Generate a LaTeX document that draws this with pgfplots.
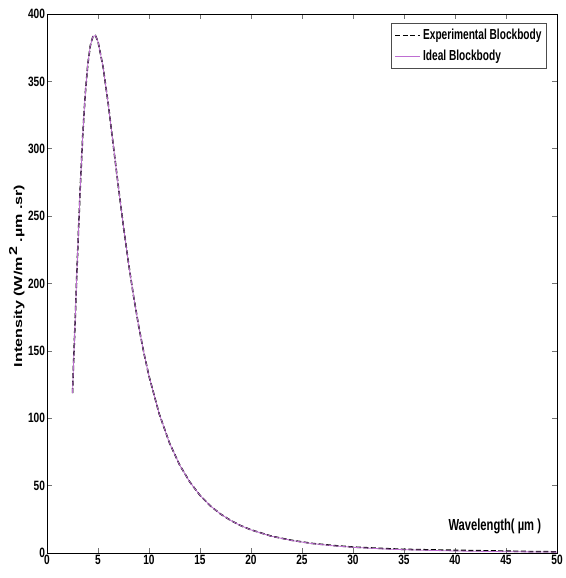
\documentclass[border=0pt]{standalone}
\usepackage{pgfplots}
\pgfplotsset{compat=1.18}
\usepackage{fontspec}
\setmainfont{Liberation Sans}
% the reference figure was squeezed sideways, so horizontal text looks narrow
\newfontfamily\tickfont[FakeStretch=0.75]{Liberation Sans}
\newfontfamily\legfont[FakeStretch=0.7]{Liberation Sans}
\newfontfamily\ylabfont[FakeStretch=1.4]{Liberation Sans}

\definecolor{idealviolet}{RGB}{190,110,210}

\begin{document}
\begin{tikzpicture}[x=1pt,y=1pt]
\begin{axis}[
    name=main,
    scale only axis,
    width=510pt, height=539pt,
    xmin=0, xmax=50, ymin=0, ymax=400,
    xtick={0,5,...,50}, ytick={0,50,...,400},
    tick align=inside,
    major tick length=5pt,
    tick style={black!55, line width=0.7pt},
    axis line style={black, line width=0.7pt},
    tick label style={font=\fontsize{13.5}{15}\tickfont\bfseries},
    /pgf/number format/assume math mode=true,
    xticklabel style={yshift=1pt},
    yticklabel style={xshift=1.5pt},
    ylabel={Intensity (W/m\,\raisebox{5pt}{2}\,\,.\textmu m .sr)},
    ylabel style={font=\fontsize{11.5}{13}\ylabfont\bfseries,
        at={(axis description cs:-0.059,0.514)}, anchor=center},
    legend style={
        font=\fontsize{14.5}{16}\legfont\bfseries,
        draw=black!70, line width=0.5pt,
        at={(0.98,0.983)}, anchor=north east,
        inner xsep=3pt, inner ysep=4pt, row sep=5pt,
    },
    legend cell align=left,
    legend image code/.code={\draw[#1] (0pt,0pt) -- (25pt,0pt);},
]

% --- Experimental ---
\addplot[black, line width=1.5pt, dash pattern=on 5pt off 2.5pt] coordinates {
(2.5,118.7) (2.75,170.6) (3,222.5) (3.25,269.6) (3.5,309.4) (3.75,340.5)
(4,362.7) (4.25,376.6) (4.5,383.3) (4.75,384.0) (5,379.6) (5.5,360.6)
(6,333.4) (6.5,302.6) (7,271.6) (7.5,242.0) (8,214.6) (8.5,189.9)
(9,167.9) (9.5,148.4) (10,131.3) (11,103.3) (12,81.8) (13,65.4)
(14,52.7) (15,42.8) (16,35.1) (17,29.0) (18,24.2) (19,20.3) (20,17.2)
(22,12.5) (24,9.4) (26,7.1) (28,5.6) (30,4.4) (33,3.3) (35,2.7)
(40,2.0) (45,1.4) (48,1.0) (50,0.9)
};
\addlegendentry{Experimental Blockbody}

% --- Ideal ---
\addplot[idealviolet, line width=0.8pt] coordinates {
(2.5,118.7) (2.75,170.6) (3,222.5) (3.25,269.6) (3.5,309.4) (3.75,340.5)
(4,362.7) (4.25,376.6) (4.5,383.3) (4.75,384.0) (5,379.6) (5.5,360.6)
(6,333.4) (6.5,302.6) (7,271.6) (7.5,242.0) (8,214.6) (8.5,189.9)
(9,167.9) (9.5,148.4) (10,131.3) (11,103.3) (12,81.8) (13,65.35)
(14,52.66) (15,42.82) (16,35.11) (17,29.02) (18,24.17) (19,20.28) (20,17.13)
(22,12.44) (24,9.25) (26,7.0) (28,5.4) (30,4.23) (33,3.0) (35,2.43)
(40,1.49) (45,0.96) (50,0.65)
};
\addlegendentry{Ideal Blockbody}

\node[font=\fontsize{16}{18}\legfont\bfseries] at (axis cs:43.9,20) {Wavelength( \textmu m )};
\end{axis}
% page margins as in the reference
\path ([xshift=-47pt,yshift=14pt]main.north west) ([xshift=6pt,yshift=-25pt]main.south east);
\end{tikzpicture}
\end{document}
